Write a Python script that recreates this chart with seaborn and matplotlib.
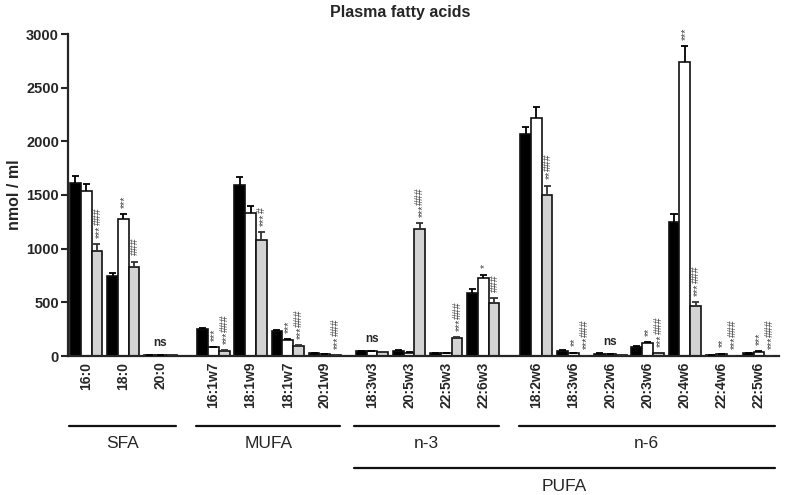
import numpy as np
import pandas as pd
import matplotlib
matplotlib.use("Agg")
import matplotlib.pyplot as plt
import matplotlib.transforms as mtransforms
import seaborn as sns

# ---------------- data ----------------
categories = ["16:0", "18:0", "20:0",
              "16:1w7", "18:1w9", "18:1w7", "20:1w9",
              "18:3w3", "20:5w3", "22:5w3", "22:6w3",
              "18:2w6", "18:3w6", "20:2w6", "20:3w6", "20:4w6", "22:4w6", "22:5w6"]
groups = ["SFA"] * 3 + ["MUFA"] * 4 + ["n-3"] * 4 + ["n-6"] * 7
series_names = ["Group 1", "Group 2", "Group 3"]

black_vals = [1615, 745, 5, 248, 1597, 233, 28, 47, 50, 28, 590, 2065, 50, 22, 81, 1249, 9, 25]
black_err = [62, 25, 2, 10, 74, 9, 3, 4, 4, 3, 31, 72, 6, 2, 9, 77, 2, 3]
white_vals = [1534, 1273, 8, 81, 1336, 149, 20, 43, 31, 28, 724, 2215, 28, 20, 121, 2743, 19, 37]
white_err = [65, 47, 2, 4, 62, 6, 2, 3, 3, 3, 34, 108, 3, 2, 6, 146, 2, 6]
gray_vals = [978, 826, 5, 50, 1078, 96, 8, 37, 1183, 165, 494, 1497, 3, 12, 25, 463, 3, 3]
gray_err = [65, 53, 1, 3, 77, 5, 1, 3, 53, 9, 43, 90, 1, 1, 3, 40, 1, 1]

white_sig = ["", "***", "", "***", "", "***", "", "", "", "", "*",
             "", "**", "", "**", "***", "**", "***"]
gray_sig = ["***###", "###", "", "***###", "***#", "***###", "***###",
            "", "***###", "***###", "###",
            "**###", "***###", "", "***###", "***###", "***###", "***###"]
ns_categories = ["20:0", "18:3w3", "20:2w6"]

group_order = ["SFA", "MUFA", "n-3", "n-6"]
group_extra_gap = [0.0, 0.43, 0.27, 0.43]
super_groups = [("PUFA", ["n-3", "n-6"])]

# ---------------- layout of positions ----------------
positions = []
p = -1.0
prev = None
for g in groups:
    p += 1.0
    if prev is not None and g != prev:
        p += group_extra_gap[group_order.index(g)]
    positions.append(round(p, 3))
    prev = g

all_vals = [black_vals, white_vals, gray_vals]
all_errs = [black_err, white_err, gray_err]
rows = []
for s, vals in zip(series_names, all_vals):
    for c, pos, v in zip(categories, positions, vals):
        rows.append({"pos": pos, "value": v, "series": s, "cat": c})
df = pd.DataFrame(rows)

# ---------------- style ----------------
sns.set_style("ticks")
plt.rcParams["font.family"] = ["Liberation Sans", "DejaVu Sans"]

fig = plt.figure(figsize=(7.89, 4.95), dpi=100)
ax = fig.add_axes([68 / 789, 1 - 356 / 495, (779 - 68) / 789, (356 - 34) / 495])

palette = {series_names[0]: "#000000", series_names[1]: "#ffffff", series_names[2]: "#d3d3d3"}
sns.barplot(data=df, x="pos", y="value", hue="series", hue_order=series_names,
            palette=palette, native_scale=True, width=0.87, gap=0,
            errorbar=None, edgecolor="#111111", linewidth=1.2, legend=False, ax=ax)

# error bars (upward only) from bar patches
err_colors = ["#000000", "#000000", "#333333"]
cap_half = 0.095
bar_tops = {}
for si, cont in enumerate(ax.containers):
    patches = sorted(cont.patches, key=lambda r: r.get_x())
    for ci, rect in enumerate(patches):
        xc = rect.get_x() + rect.get_width() / 2
        h = rect.get_height()
        e = all_errs[si][ci]
        ax.vlines(xc, h, h + e, color=err_colors[si], lw=1.3, zorder=3)
        ax.hlines(h + e, xc - cap_half, xc + cap_half, color=err_colors[si], lw=1.3, zorder=3)
        bar_tops[(si, ci)] = (xc, h + e)

# significance annotations (stars below, hashes above, reading upward)
fs = 7.6
star_adv = 0.389 * fs
base_off = 4.5
x_shift = {1: -0.6, 2: 0.4}
for si, sigs in [(1, white_sig), (2, gray_sig)]:
    for ci, txt in enumerate(sigs):
        if not txt:
            continue
        xc, top = bar_tops[(si, ci)]
        stars = txt.replace("#", "")
        hashes = txt.replace("*", "")
        if stars:
            ax.annotate(stars, xy=(xc, top), xytext=(x_shift[si] + 1.5, base_off),
                        textcoords="offset points", rotation=90, ha="center", va="bottom",
                        fontsize=fs, color="#444444")
        if hashes:
            ax.annotate(hashes, xy=(xc, top), xytext=(x_shift[si], base_off + len(stars) * star_adv),
                        textcoords="offset points", rotation=90, ha="center", va="bottom",
                        fontsize=fs, color="#444444")
for c in ns_categories:
    ci = categories.index(c)
    top = max(bar_tops[(si, ci)][1] for si in range(3))
    ax.annotate("ns", xy=(positions[ci], top), xytext=(0, 4), textcoords="offset points",
                ha="center", va="bottom", fontsize=8.5, fontweight="bold")

# axes formatting
ax.set_ylim(0, 3000)
ax.set_yticks(np.arange(0, 3001, 500))
ax.set_xlim(positions[0] - 0.49, positions[-1] + 0.54)
ax.set_xticks(positions)
ax.set_xticklabels(categories, rotation=90, fontweight="bold", fontsize=10)
ax.tick_params(axis="x", length=0, pad=4)
ax.tick_params(axis="y", length=5, width=1.5, pad=1.5, labelsize=10.5)
for lab in ax.get_yticklabels():
    lab.set_fontweight("bold")
ax.set_xlabel("")
ax.set_ylabel("nmol / ml", fontweight="bold", fontsize=11.5, labelpad=3)
ax.set_title("Plasma fatty acids", fontweight="bold", fontsize=11.5, pad=12,
             x=(400 - 68) / 711)
sns.despine(ax=ax)
for sp in ["left", "bottom"]:
    ax.spines[sp].set_linewidth(1.6)

# group lines and labels
trans = mtransforms.blended_transform_factory(ax.transData, ax.transAxes)
for g in group_order:
    idx = [i for i, gg in enumerate(groups) if gg == g]
    x0 = positions[idx[0]] - 0.47
    x1 = positions[idx[-1]] + 0.42
    ax.plot([x0, x1], [-0.217, -0.217], transform=trans, color="#111111", lw=1.6, clip_on=False)
    ax.text((x0 + x1) / 2, -0.273, g, transform=trans, ha="center", va="center", fontsize=12.5)
for name, members in super_groups:
    idx = [i for i, gg in enumerate(groups) if gg in members]
    x0 = positions[idx[0]] - 0.47
    x1 = positions[idx[-1]] + 0.42
    ax.plot([x0, x1], [-0.348, -0.348], transform=trans, color="#111111", lw=1.6, clip_on=False)
    ax.text((x0 + x1) / 2, -0.405, name, transform=trans, ha="center", va="center", fontsize=12.5)

fig.savefig("out.png", dpi=100)
